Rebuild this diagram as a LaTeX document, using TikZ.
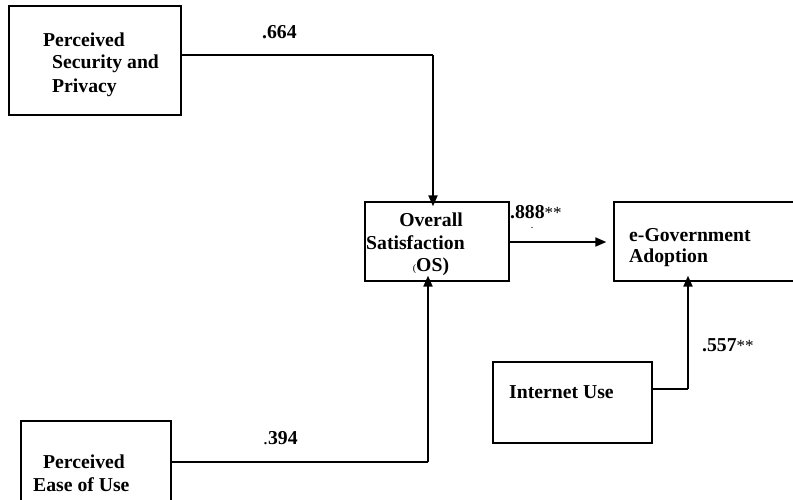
\documentclass[tikz,border=0pt]{standalone}
\usepackage{fontspec}
\setmainfont{Liberation Serif}
\usetikzlibrary{arrows.meta}
\begin{document}
\begin{tikzpicture}[x=1pt,y=-1pt,
  box/.style={draw, line width=1.3pt, inner sep=0pt},
  lbl/.style={font=\fontsize{19.7}{23}\selectfont\bfseries, inner sep=0pt, anchor=west},
  conn/.style={line width=1.3pt},
  arr/.style={line width=2pt, -{Triangle[length=11pt,width=9pt]}}]
\useasboundingbox (0,0) rectangle (793,499);
\begin{scope}
\clip (0,0) rectangle (793,499);
% boxes
\node[box, minimum width=172, minimum height=109] (psp) at (95,60.5) {};
\node[box, minimum width=144, minimum height=79] (os) at (437,241.5) {};
\node[box, minimum width=190, minimum height=79] (egov) at (709,241.5) {};
\node[box, minimum width=159, minimum height=81] (iu) at (572.5,402.5) {};
\node[box, minimum width=150, minimum height=100] (peu) at (96,471) {};
% texts
\node[lbl] (t1) at (43,40) {Perceived};
\node[lbl] (t2) at (52,64) {Security and};
\node[lbl] (t3) at (52,88) {Privacy};
\node[lbl, anchor=center] (t4) at (431,220) {Overall};
\node[lbl] (t5) at (366,243) {Satisfaction};
\node[lbl, anchor=center] (t6) at (431,267) {{\mdseries\fontsize{10}{10}\selectfont(}OS)};
\node[lbl] (t7) at (629,235) {e-Government};
\node[lbl] (t8) at (629,258) {Adoption};
\node[lbl] (t9) at (509,392) {Internet Use};
\node[lbl, anchor=center] (t10) at (84,462) {Perceived};
\node[lbl] (t11) at (33,485) {Ease of Use};
% coefficients
\node[lbl] (c1) at (262,32) {.664};
\node[lbl] (c2) at (510,212) {.888{\mdseries\fontsize{17}{17}\selectfont**}};
\node[lbl, font=\fontsize{8}{8}\selectfont\bfseries, anchor=center] (c2dot) at (532,228) {.};
\node[lbl] (c3) at (702,345) {.557{\mdseries\fontsize{17}{17}\selectfont**}};
\node[lbl] (c4) at (263,438) {{\mdseries .}394};
% connectors
\coordinate (k1) at (433,55);
\coordinate (k2) at (428,462);
\coordinate (k3) at (688,389);
\draw[conn] (psp.east |- k1) -- (k1);
\draw[arr] (k1) -- ([xshift=-4pt,yshift=-5pt]os.north);
\draw[arr, line width=1.8pt] (os.east |- 0,242) -- ([xshift=-7pt]egov.west |- 0,242);
\draw[conn] (peu.east |- k2) -- (k2);
\draw[arr] (k2) -- ([xshift=-9pt,yshift=6pt]os.south);
\draw[conn] (iu.east |- k3) -- (k3);
\draw[arr] (k3) -- ([xshift=-21pt,yshift=6pt]egov.south);
\end{scope}
\end{tikzpicture}
\end{document}
